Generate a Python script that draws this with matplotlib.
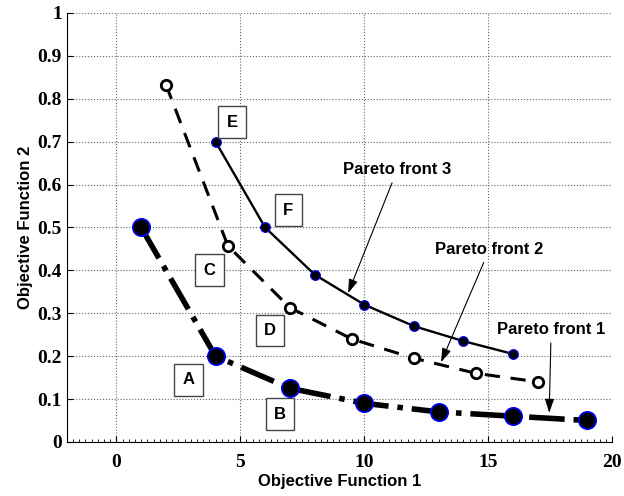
import matplotlib.pyplot as plt
from matplotlib.ticker import MultipleLocator

# Pareto fronts
f1_x = [1, 4, 7, 10, 13, 16, 19]
f1_y = [0.5, 0.2, 0.125, 0.09, 0.07, 0.06, 0.05]

f2_x = [2, 4.5, 7, 9.5, 12, 14.5, 17]
f2_y = [0.833, 0.457, 0.313, 0.24, 0.195, 0.16, 0.14]

f3_x = [4, 6, 8, 10, 12, 14, 16]
f3_y = [0.7, 0.5, 0.39, 0.32, 0.27, 0.235, 0.205]

box_labels = ['E', 'F', 'C', 'D', 'A', 'B']
box_x = [4.68, 6.93, 3.75, 6.2, 2.9, 6.6]
box_y = [0.745, 0.54, 0.40, 0.26, 0.145, 0.065]

notes = ['Pareto front 3', 'Pareto front 2', 'Pareto front 1']
note_xy = [(11.33, 0.634), (15.04, 0.448), (17.54, 0.261)]
tip_xy = [(9.35, 0.347), (13.1, 0.186), (17.46, 0.068)]

fig = plt.figure(figsize=(6.24, 4.96), dpi=100)
ax = fig.add_axes([0.107, 0.109, 0.874, 0.865])

ax.plot(f1_x, f1_y, '-.', color='black', lw=4, marker='o', ms=12.5,
        mfc='black', mec='blue', mew=1.2, zorder=3)
ax.plot(f2_x, f2_y, '--', color='black', lw=2.2, dashes=(5, 3.5), marker='o', ms=7.5,
        mfc='white', mec='black', mew=2, zorder=3)
ax.plot(f3_x, f3_y, '-', color='black', lw=1.7, marker='o', ms=7,
        mfc='black', mec='blue', mew=0.8, zorder=3)

for lab, x, y in zip(box_labels, box_x, box_y):
    ax.text(x, y, lab, ha='center', va='center', fontsize=12, fontweight='bold',
            family='Liberation Sans',
            bbox=dict(boxstyle='square,pad=0.5', fc='white', ec='#444444', lw=1))

for t, xy, tip in zip(notes, note_xy, tip_xy):
    ax.annotate(t, xy=tip, xytext=xy, ha='center', va='center', fontsize=12,
                fontweight='bold', family='Liberation Sans',
                arrowprops=dict(arrowstyle='-|>,head_length=0.6,head_width=0.2',
                                color='black', lw=0.8,
                                mutation_scale=14, shrinkA=2, shrinkB=0))

ax.set_xlim(-2, 20)
ax.set_ylim(0, 1)
ax.set_xticks([0, 5, 10, 15, 20])
ax.set_yticks([0, 0.1, 0.2, 0.3, 0.4, 0.5, 0.6, 0.7, 0.8, 0.9, 1])
ax.set_yticklabels(['0', '0.1', '0.2', '0.3', '0.4', '0.5', '0.6', '0.7', '0.8', '0.9', '1'])
ax.xaxis.set_minor_locator(MultipleLocator(0.25))
ax.tick_params(direction='in', length=4, width=0.8)
ax.tick_params(axis='x', pad=9)
ax.tick_params(which='minor', direction='in', length=2, width=0.6, left=False)
for lab in ax.get_xticklabels() + ax.get_yticklabels():
    lab.set_family('Liberation Serif')
    lab.set_fontweight('bold')
    lab.set_fontsize(14)

ax.grid(True, linestyle=':', color='#666666', lw=0.8)
ax.spines['top'].set_visible(False)
ax.spines['right'].set_visible(False)
ax.set_xlabel('Objective Function 1', fontsize=12, fontweight='bold',
              family='Liberation Sans', labelpad=2)
ax.set_ylabel('Objective Function 2', fontsize=12, fontweight='bold',
              family='Liberation Sans', labelpad=3)

fig.savefig('out.png', dpi=100)
